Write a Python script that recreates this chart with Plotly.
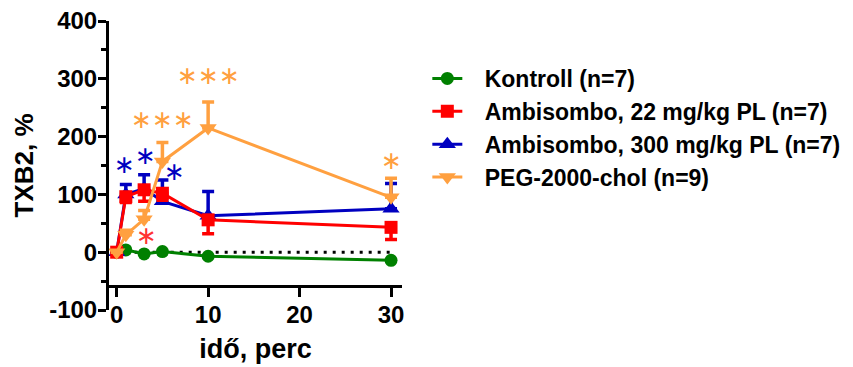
import plotly.graph_objects as go

# ---- data ----
time = [0, 1, 3, 5, 10, 30]
kontroll = [0, 4, -3, 1, -7, -14]
amb22 = [0, 96, 108, 102, 56, 43]
amb22_err_minus = [0, 10, 20, 12, 24, 21]
amb300 = [0, 100, 110, 88, 63, 75]
amb300_err_plus = [0, 17, 24, 37, 42, 44]
peg = [0, 30, 57, 157, 215, 95]
peg_err_plus = [0, 8, 15, 33, 45, 33]

names = ["Kontroll (n=7)", "Ambisombo, 22 mg/kg PL (n=7)",
         "Ambisombo, 300 mg/kg PL (n=7)", "PEG-2000-chol (n=9)"]

# significance labels: x, y, text, series
star_x = [10, 5, 30, 0.9, 3.1, 6.3, 3.3]
star_y = [306, 230, 159, 151, 168, 140, 29]
star_text = ["\u2217\u2217\u2217", "\u2217\u2217\u2217", "\u2217", "\u2217", "\u2217", "\u2217", "\u2217"]
star_series = ["peg", "peg", "peg", "b", "b", "b", "r"]

x_ticks = [0, 10, 20, 30]
y_ticks = [-100, 0, 100, 200, 300, 400]
y_tick_labels = ["-100", "0", "100", "200", "300", "400"]

GREEN = "#008000"
RED = "#FF0000"
BLUE = "#0000C0"
ORANGE = "#FFA040"
colmap = {"peg": ORANGE, "b": BLUE, "r": "#FF3333"}

FONT = "Liberation Sans, Arial, sans-serif"
PAD = "\u00a0\u00a0\u2009"

fig = go.Figure()

def err(plus=None, minus=None):
    d = dict(type="data", symmetric=False, thickness=3.5, width=6, visible=True)
    d["array"] = plus if plus is not None else [0] * len(time)
    d["arrayminus"] = minus if minus is not None else [0] * len(time)
    return d

fig.add_trace(go.Scatter(x=time, y=kontroll, name=PAD + names[0], mode="lines+markers",
                         line=dict(color=GREEN, width=3),
                         marker=dict(symbol="circle", size=13, color=GREEN),
                         legendrank=1))
fig.add_trace(go.Scatter(x=time, y=amb300, name=PAD + names[2], mode="lines+markers",
                         line=dict(color=BLUE, width=3),
                         marker=dict(symbol="triangle-up", size=15, color=BLUE),
                         error_y=dict(err(plus=amb300_err_plus), color=BLUE),
                         legendrank=3))
fig.add_trace(go.Scatter(x=time, y=amb22, name=PAD + names[1], mode="lines+markers",
                         line=dict(color=RED, width=3),
                         marker=dict(symbol="square", size=13, color=RED),
                         error_y=dict(err(minus=amb22_err_minus), color=RED),
                         legendrank=2))
fig.add_trace(go.Scatter(x=time, y=peg, name=PAD + names[3], mode="lines+markers",
                         line=dict(color=ORANGE, width=3),
                         marker=dict(symbol="triangle-down", size=15, color=ORANGE),
                         error_y=dict(err(plus=peg_err_plus), color=ORANGE),
                         legendrank=4))

# dotted zero line
fig.add_shape(type="line", xref="x", yref="y", x0=0, x1=30, y0=0, y1=0,
              line=dict(color="black", width=3, dash="3px,6px"), layer="below")

for x, y, t, s in zip(star_x, star_y, star_text, star_series):
    fig.add_annotation(x=x, y=y, xref="x", yref="y", text=t, showarrow=False,
                       font=dict(family="DejaVu Sans", size=25, color=colmap[s],
                                 weight="normal"),
                       xanchor="center", yanchor="middle", borderpad=0)

# page has an 8px body margin: figure coordinates = page coordinates - 8
OFF = 8
W, H = 853 - OFF, 367 - OFF
L, R, T, B = 109 - OFF, 401.7 - OFF, 21 - OFF, 310.5 - OFF
xaxis_px = 286.7 - OFF
legend_left = 427 - OFF
legend_top = 57 - OFF

fig.update_layout(
    width=W, height=H,
    margin=dict(l=L, r=W - R, t=T, b=H - B, pad=0, autoexpand=False),
    paper_bgcolor="white", plot_bgcolor="white",
    font=dict(family=FONT, size=24, color="black", weight="bold"),
    showlegend=True,
    legend=dict(x=(legend_left - L) / (R - L), y=(B - legend_top) / (B - T),
                xanchor="left", yanchor="top",
                font=dict(family=FONT, size=23, color="black", weight="bold"),
                bgcolor="rgba(0,0,0,0)", itemwidth=30, tracegroupgap=0),
    xaxis=dict(range=[-0.84, 31.2], anchor="free", position=(B - xaxis_px) / (B - T),
               showline=True, linecolor="black", linewidth=3, automargin=False,
               ticks="outside", ticklen=9, tickwidth=3, tickcolor="black",
               tickvals=x_ticks, showgrid=False, zeroline=False, ticklabelstandoff=-3,
               ticklabeloverflow="allow",
               tickfont=dict(size=24, family=FONT, weight="bold"),
               title=dict(text="idő, perc", font=dict(size=27, family=FONT, weight="bold"),
                          standoff=12)),
    yaxis=dict(range=[-100, 400], showline=True, linecolor="black", linewidth=3,
               automargin=False,
               ticks="outside", ticklen=8, tickwidth=3, tickcolor="black",
               tickvals=y_ticks, ticktext=y_tick_labels, showgrid=False, zeroline=False,
               ticklabelstandoff=-4, ticklabeloverflow="allow",
               minor=dict(dtick=50, ticks="outside", ticklen=5, tickwidth=3,
                          tickcolor="black", showgrid=False, tick0=-100),
               tickfont=dict(size=24, family=FONT, weight="bold"),
               title=dict(text="TXB2, %", font=dict(size=26, family=FONT, weight="bold"),
                          standoff=9)),
)

fig.write_html("out.html")
